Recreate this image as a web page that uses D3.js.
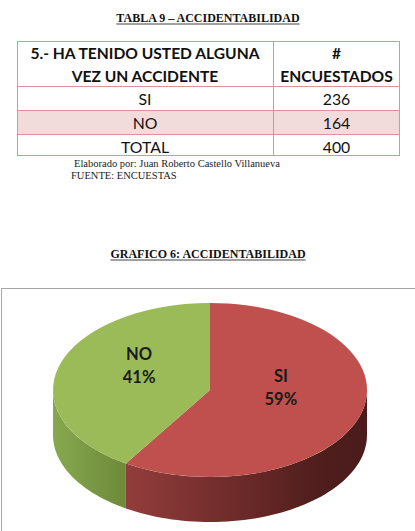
<!DOCTYPE html>
<html><head><meta charset="utf-8">
<script src="https://cdn.jsdelivr.net/npm/d3@7"></script>
<style>html,body{margin:0;padding:0;background:#fff;overflow:hidden}svg{display:block}</style>
</head><body>
<script>
// ---- data ----
const tableTitle = "TABLA 9 – ACCIDENTABILIDAD";
const chartTitle = "GRAFICO 6: ACCIDENTABILIDAD";
const headerQuestion = ["5.- HA TENIDO USTED ALGUNA", "VEZ UN ACCIDENTE"];
const headerCount = ["#", "ENCUESTADOS"];
const categories = ["SI", "NO"];
const counts = [236, 164];
const totalLabel = "TOTAL";
const footnotes = ["Elaborado por: Juan Roberto Castello Villanueva", "FUENTE: ENCUESTAS"];
const sliceColors = ["#c0504d", "#9bbb59"];

const W = 415, H = 531;
const svg = d3.select("body").append("svg").attr("width", W).attr("height", H);
const defs = svg.append("defs");

const serif = "'Liberation Serif','Times New Roman',serif";
const sans = "Lato,'Open Sans',sans-serif";

function title(txt, x, y) {
  const t = svg.append("text").attr("x", x).attr("y", y).attr("text-anchor", "middle")
    .attr("font-family", serif).attr("font-weight", "bold").attr("font-size", 12)
    .attr("fill", "#111").text(txt);
  const w = t.node().getComputedTextLength();
  svg.append("line").attr("x1", x - w / 2).attr("x2", x + w / 2).attr("y1", y + 2).attr("y2", y + 2)
    .attr("stroke", "#111").attr("stroke-width", 0.8);
}
title(tableTitle, 208, 22);

// ---- table ----
const total = d3.sum(counts);
const rows = categories.map((c, i) => ({label: c, value: counts[i]}));
rows.push({label: totalLabel, value: total});
const tX0 = 17, tX1 = 400, tXd = 273, tY0 = 41, headH = 45, rowH = [24, 24, 22];
const border = "#d99594";
let yy = tY0 + headH;
rows.forEach((r, i) => {
  if (i === 1) svg.append("rect").attr("x", tX0).attr("y", yy).attr("width", tX1 - tX0).attr("height", rowH[i]).attr("fill", "#f2dcdb");
  yy += rowH[i];
});
const tY1 = yy;
const g = svg.append("g").attr("stroke", border).attr("stroke-width", 1).attr("fill", "none");
g.append("rect").attr("x", tX0 + 0.5).attr("y", tY0 + 0.5).attr("width", tX1 - tX0 - 1).attr("height", tY1 - tY0 - 1);
g.append("line").attr("x1", tXd + 0.5).attr("x2", tXd + 0.5).attr("y1", tY0).attr("y2", tY1);
yy = tY0 + headH;
rows.forEach((r, i) => {
  g.append("line").attr("x1", tX0).attr("x2", tX1).attr("y1", yy + 0.5).attr("y2", yy + 0.5);
  yy += rowH[i];
});
const c1 = (tX0 + tXd) / 2, c2 = (tXd + tX1) / 2;
const hs = 15.6, bs = 15.8;
headerQuestion.forEach((t, i) => svg.append("text").attr("x", c1).attr("y", 58.5 + i * 23).attr("text-anchor", "middle")
  .attr("font-family", sans).attr("font-weight", "bold").attr("font-size", hs).attr("fill", "#111").text(t));
headerCount.forEach((t, i) => svg.append("text").attr("x", c2).attr("y", 58.5 + i * 23).attr("text-anchor", "middle")
  .attr("font-family", sans).attr("font-weight", "bold").attr("font-size", hs).attr("fill", "#111").text(t));
yy = tY0 + headH;
rows.forEach((r, i) => {
  const by = yy + 19;
  svg.append("text").attr("x", c1).attr("y", by).attr("text-anchor", "middle").attr("font-family", sans)
    .attr("font-size", bs).attr("fill", "#111").text(r.label);
  svg.append("text").attr("x", c2).attr("y", by).attr("text-anchor", "middle").attr("font-family", sans)
    .attr("font-size", bs).attr("fill", "#111").text(r.value);
  yy += rowH[i];
});
footnotes.forEach((t, i) => svg.append("text").attr("x", i === 0 ? 74 : 71).attr("y", 167 + i * 11.5)
  .attr("font-family", serif).attr("font-size", 10.5).attr("fill", "#222").text(t));

title(chartTitle, 208, 258);

// ---- chart area ----
svg.append("rect").attr("x", 1.5).attr("y", 288.5).attr("width", 420).attr("height", 260)
  .attr("fill", "#fff").attr("stroke", "#a6a6a6").attr("stroke-width", 1);

const cx = 210, cy = 390, rx = 157, ry = 87, depth = 45;
const pie = d3.pie().sort(null).value(d => d)(counts);
const P = (t, r = 1, dy = 0) => [cx + rx * r * Math.sin(t), cy - ry * r * Math.cos(t) + dy];

const grads = [
  [["0%", "#923d3b"], ["45%", "#6e2b2a"], ["80%", "#4f1e1d"], ["100%", "#4a1c1b"]],
  [["0%", "#88a84f"], ["100%", "#6c8a3a"]]
];
pie.forEach((s, i) => {
  const lo = Math.max(s.startAngle, Math.PI / 2), hi = Math.min(s.endAngle, 3 * Math.PI / 2);
  if (hi <= lo) return;
  const xa = [P(lo)[0], P(hi)[0]];
  const gr = defs.append("linearGradient").attr("id", "side" + i).attr("gradientUnits", "userSpaceOnUse")
    .attr("x1", xa[1]).attr("x2", xa[0]).attr("y1", 0).attr("y2", 0);
  grads[i].forEach(([o, c]) => gr.append("stop").attr("offset", o).attr("stop-color", c));
  const n = 60, pts = [];
  for (let k = 0; k <= n; k++) pts.push(P(lo + (hi - lo) * k / n));
  for (let k = n; k >= 0; k--) pts.push(P(lo + (hi - lo) * k / n, 1, depth));
  svg.append("path").attr("d", "M" + pts.map(p => p.join(",")).join("L") + "Z").attr("fill", "url(#side" + i + ")");
});
pie.forEach((s, i) => {
  const a = P(s.startAngle), b = P(s.endAngle);
  const large = (s.endAngle - s.startAngle) > Math.PI ? 1 : 0;
  svg.append("path").attr("d", `M${cx},${cy}L${a[0]},${a[1]}A${rx},${ry} 0 ${large} 1 ${b[0]},${b[1]}Z`)
    .attr("fill", sliceColors[i]);
});
pie.forEach((s, i) => {
  const m = (s.startAngle + s.endAngle) / 2;
  const p = P(m, 0.47, -13);
  const t = svg.append("text").attr("text-anchor", "middle").attr("font-family", sans).attr("font-weight", "bold")
    .attr("font-size", 16.5).attr("fill", "#1a1a1a");
  t.append("tspan").attr("x", p[0]).attr("y", p[1] - 6).text(categories[i]);
  t.append("tspan").attr("x", p[0]).attr("y", p[1] + 17).text(Math.round(counts[i] / total * 100) + "%");
});
</script>
</body></html>
